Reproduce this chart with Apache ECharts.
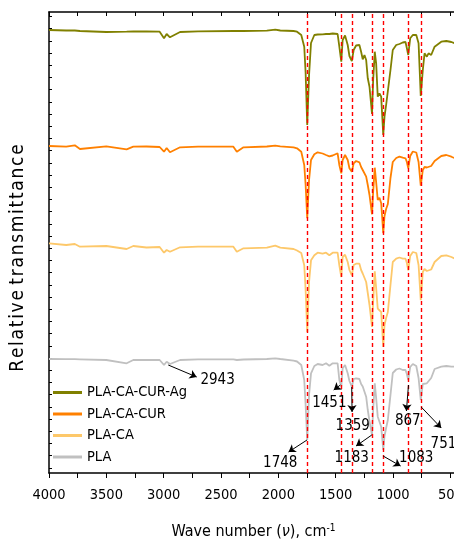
<!DOCTYPE html>
<html>
<head>
<meta charset="utf-8">
<script src="https://cdn.jsdelivr.net/npm/echarts@6/dist/echarts.min.js"></script>
<style>
  html, body { margin: 0; padding: 0; background: #fff; }
  #chart { width: 454px; height: 543px; }
</style>
</head>
<body>
<div id="chart"></div>
<script>
// wave numbers (cm-1) shared by the four spectra
var wavenumber = [4000, 3850, 3775, 3730, 3500, 3323, 3265, 3150, 3035, 2997, 2974, 2945, 2857, 2700,
  2392, 2362, 2304, 2100, 2027, 1983, 1867, 1837, 1800, 1774, 1762, 1748, 1732, 1715, 1686, 1657,
  1614, 1584, 1555, 1526, 1483, 1468, 1451, 1439, 1418, 1395, 1380, 1359, 1343, 1322, 1293, 1278,
  1264, 1249, 1234, 1220, 1205, 1183, 1173, 1159, 1147, 1133, 1118, 1103, 1085, 1074, 1060, 1045,
  1022, 1002, 972, 944, 915, 891, 879, 867, 850, 827, 797, 777, 758, 740, 725, 705, 690, 667, 637,
  579, 535, 491, 460];

// relative transmittance (stacked, arbitrary units)
var plaCaCurAg = [443, 442.5, 442.5, 442, 441, 441.3, 441.5, 441.5, 441.3, 434.7, 439, 435.7, 441, 441.7,
  442, 442, 442, 442.3, 443.3, 442.5, 442, 441.3, 438, 426.3, 400, 348, 398, 430, 438, 438.5,
  438.7, 439, 439, 439.5, 439, 426.3, 411.3, 433, 437.5, 428, 417, 412, 423, 427.5, 428, 421.3,
  413.7, 418, 413, 394.7, 386.3, 359, 393, 421.3, 409.7, 376.3, 379.7, 376.3, 338, 356.3, 368, 370,
  403, 423, 428, 429, 430.5, 431, 424.7, 418, 434.7, 438, 438, 429.7, 377, 403, 419.7, 416.3, 419.7, 418, 426.3,
  431.3, 432, 431, 429.7];
var plaCaCur = [327, 326.3, 327.7, 324, 326.7, 323.7, 326.3, 326.5, 326, 321.3, 325, 320.7, 325.7, 326.3,
  326.3, 321.3, 325.7, 326.5, 327.3, 326.7, 325.7, 324.7, 321.3, 308, 288, 254.7, 293, 313, 318.7, 320.7,
  319.5, 318, 316.7, 317.5, 319.7, 308, 299.7, 313, 318, 313, 304.7, 301.3, 309.7, 312, 310.7, 306,
  303, 303, 296.3, 288, 278, 258.7, 281.3, 305.3, 291, 273, 275.3, 269.7, 239.7, 257, 264, 269,
  295, 311, 315, 316.3, 315.3, 314.7, 311, 304.7, 317, 321.5, 320.5, 311, 287.3, 303, 306, 305.5, 304.7, 307, 312,
  317, 318, 316.3, 314.7];
var plaCa = [229.7, 228, 229, 226.3, 227, 224, 227, 225.5, 226, 220.3, 223, 221.3, 225.7, 226.3,
  226.3, 221.3, 224.7, 225.3, 227.3, 225.3, 224, 222.5, 220, 207.7, 183, 141, 191, 212.7, 217.7, 220.3,
  219.3, 220.3, 217.7, 220.3, 220.3, 207.7, 196, 216, 218.3, 211, 203, 197.7, 208, 209.3, 209.3, 203,
  199.5, 199, 191, 180, 168, 146, 171, 201.7, 185, 164.3, 166, 161, 126, 148, 155, 161,
  188, 211, 214.3, 215.5, 214.3, 214.3, 210, 202.7, 217, 221, 220, 208, 172.7, 201, 204, 202, 201, 203.5, 211,
  217, 217.7, 216, 214.3];
var pla = [114, 113.8, 113.8, 113.7, 113, 109.7, 113, 113, 113, 108, 111.3, 109, 113, 113.7,
  113.7, 113, 113.5, 114, 114.7, 114, 112.3, 111.5, 108, 93, 68, 33, 78, 99.7, 107, 109,
  108, 109.7, 107.3, 109.7, 109.7, 93, 86.3, 104.7, 108, 99.7, 92, 86.3, 94, 94.7, 94, 89,
  86.5, 85, 76.3, 63, 52, 38, 63, 89.7, 75, 56.3, 54.7, 46.3, 23, 37, 45, 53,
  78, 100, 103.5, 104.5, 103, 103, 99, 93, 106, 109, 107, 95, 73, 89, 90, 89.7, 89.7, 95, 104,
  106.3, 107, 106.3, 106.3];

var seriesNames = ['PLA-CA-CUR-Ag', 'PLA-CA-CUR', 'PLA-CA', 'PLA'];
var seriesColors = ['#808000', '#ff8000', '#fdc86a', '#c0c0c0'];

// assigned bands (red dashed guides)
var bandLines = [1748, 1451, 1359, 1183, 1083, 867, 751];
var peakLabels = ['2943', '1748', '1451', '1359', '1183', '1083', '867', '751'];

// callout geometry: arrow start, arrow end, text centre  [wave number, transmittance]
var calloutLayout = [
  { from: [2960, 108], to: [2712, 96], text: [2530, 93] },
  { from: [1750, 33], to: [1911, 21], text: [1983, 10] },
  { from: [1459, 88], to: [1517, 83], text: [1555, 70] },
  { from: [1360, 86], to: [1357, 61], text: [1351, 47] },
  { from: [1185, 38], to: [1322, 27], text: [1360, 15] },
  { from: [1086, 17], to: [934, 7], text: [797, 15] },
  { from: [865, 88], to: [883, 62], text: [871, 52] },
  { from: [754, 66], to: [579, 45], text: [560, 29] }
];

var FONT = "'DejaVu Sans Condensed', 'Liberation Sans', sans-serif";
var HS = '\u200A';

function pairs( ys ) {
  return wavenumber.map( function( x, i ) { return [ x, ys[ i ] ]; } );
}

// spaced-out axis title, as in the original plot
function spaced( s ) {
  return s.split( '' ).join( HS );
}

// minor ticks of the left axis, every 12.2 units
var yTicks = [];
for( var t = 285.7 - 23 * 12.2; t < 461; t += 12.2 ) {
  yTicks.push( +t.toFixed( 1 ) );
}

var values = [ plaCaCurAg, plaCaCur, plaCa, pla ];
var series = values.map( function( ys, i ) {
  return {
    name: seriesNames[ i ],
    type: 'line',
    data: pairs( ys ),
    showSymbol: false,
    symbol: 'none',
    lineStyle: { color: seriesColors[ i ], width: 1.8 },
    itemStyle: { color: seriesColors[ i ] },
    z: 2
  };
} );

// red dashed guides, drawn with the last spectrum
series[ 3 ].z = 4;
series[ 3 ].markLine = {
  silent: true,
  animation: false,
  symbol: [ 'none', 'none' ],
  label: { show: false },
  lineStyle: { color: '#ff0000', type: [ 4, 3 ], width: 1.4 },
  data: bandLines.map( function( v ) { return { xAxis: v }; } )
};

// arrows and peak labels
series.push( {
  name: 'callouts',
  type: 'line',
  data: [],
  z: 6,
  itemStyle: { color: '#000' },
  markLine: {
    silent: true,
    animation: false,
    symbol: [ 'none', 'arrow' ],
    symbolSize: 7,
    label: { show: false },
    lineStyle: { color: '#000', type: 'solid', width: 1 },
    data: calloutLayout.map( function( c ) {
      return [ { coord: c.from }, { coord: c.to } ];
    } )
  },
  markPoint: {
    silent: true,
    animation: false,
    symbol: 'circle',
    symbolSize: 1,
    itemStyle: { color: 'rgba(0,0,0,0)' },
    label: { show: true, position: 'inside', color: '#000', fontSize: 15, fontFamily: FONT,
      formatter: function( p ) { return p.name; } },
    data: calloutLayout.map( function( c, i ) {
      return { name: peakLabels[ i ], coord: c.text };
    } )
  }
} );

var xBase = {
  type: 'value',
  min: 250,
  max: 4000,
  interval: 250,
  inverse: true,
  splitLine: { show: false },
  axisLine: { onZero: false, lineStyle: { color: '#000', width: 1.5 } }
};

var chart = echarts.init( document.getElementById( 'chart' ) );
chart.setOption( {
  animation: false,
  grid: { left: 49, top: 12, width: 430, height: 461, containLabel: false, outerBoundsMode: 'none' },
  legend: {
    data: seriesNames,
    orient: 'vertical',
    left: 53,
    top: 385,
    padding: 0,
    itemWidth: 29,
    itemHeight: 3,
    itemGap: 6.5,
    icon: 'rect',
    textStyle: { color: '#000', fontSize: 14.5, fontFamily: FONT }
  },
  xAxis: [
    Object.assign( {}, xBase, {
      position: 'bottom',
      axisTick: { inside: false, length: 5, lineStyle: { color: '#000' } },
      axisLabel: {
        color: '#000', fontSize: 14.5, fontFamily: FONT, margin: 15,
        formatter: function( v ) { return v % 500 === 0 ? v : ''; }
      },
      name: 'Wave number ({it|ν}), cm{sup|-1}',
      nameLocation: 'middle',
      nameGap: 50,
      nameTextStyle: {
        color: '#000', fontSize: 16, fontFamily: FONT, padding: [ 0, 21, 0, 0 ],
        rich: {
          it: { fontStyle: 'italic', fontSize: 16, fontFamily: FONT, color: '#000' },
          sup: { fontSize: 10, fontFamily: FONT, color: '#000', verticalAlign: 'top', padding: [ 0, 0, 8, 0 ] }
        }
      }
    } ),
    Object.assign( {}, xBase, {
      position: 'top',
      axisTick: { inside: true, length: 4, lineStyle: { color: '#000' } },
      axisLabel: { show: false }
    } )
  ],
  yAxis: {
    type: 'value',
    min: 0,
    max: 461,
    splitLine: { show: false },
    axisLine: { show: true, onZero: false, lineStyle: { color: '#000', width: 1.5 } },
    axisTick: { show: true, inside: true, length: 3, customValues: yTicks, lineStyle: { color: '#000' } },
    axisLabel: { show: false },
    name: spaced( 'Relative' ) + ' ' + spaced( 'transmittance' ),
    nameLocation: 'middle',
    nameGap: 21,
    nameTextStyle: { color: '#000', fontSize: 19, fontFamily: FONT, padding: [ 0, 31, 0, 0 ] }
  },
  series: series
} );
</script>
</body>
</html>
